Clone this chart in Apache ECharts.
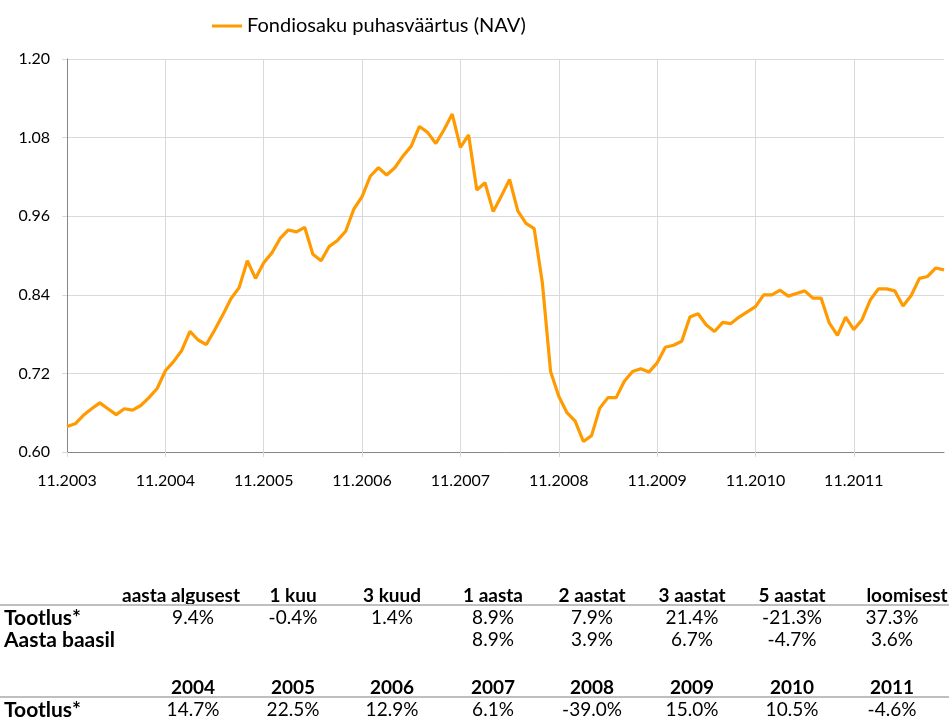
<!DOCTYPE html>
<html>
<head>
<meta charset="utf-8">
<script src="https://cdn.jsdelivr.net/npm/echarts@6/dist/echarts.min.js"></script>
<style>
html,body{margin:0;padding:0;background:#fff;}
#chart{width:949px;height:721px;}
</style>
</head>
<body>
<div id="chart"></div>
<script>
// ---- data ----
const startMonth = 11, startYear = 2003;
const navValues = [
  0.639,0.643,0.656,0.666,0.675,0.666,0.657,0.666,0.664,0.671,0.683,0.697,
  0.724,0.738,0.755,0.784,0.771,0.764,0.786,0.809,0.834,0.851,0.892,0.865,
  0.889,0.904,0.926,0.939,0.936,0.943,0.902,0.892,0.914,0.923,0.937,0.971,
  0.990,1.021,1.034,1.023,1.034,1.052,1.067,1.097,1.088,1.071,1.092,1.116,
  1.065,1.084,1.000,1.011,0.967,0.991,1.016,0.968,0.949,0.941,0.858,0.723,
  0.685,0.660,0.647,0.616,0.625,0.667,0.683,0.683,0.708,0.723,0.727,0.722,
  0.736,0.760,0.763,0.769,0.806,0.811,0.794,0.784,0.798,0.796,0.806,0.814,
  0.822,0.840,0.840,0.847,0.838,0.842,0.846,0.835,0.835,0.797,0.778,0.806,
  0.787,0.802,0.832,0.849,0.849,0.846,0.823,0.839,0.865,0.868,0.881,0.878
];
const seriesName = 'Fondiosaku puhasväärtus (NAV)';
const periodHeaders = ['aasta algusest','1 kuu','3 kuud','1 aasta','2 aastat','3 aastat','5 aastat','loomisest'];
const periodReturn = ['9.4%','-0.4%','1.4%','8.9%','7.9%','21.4%','-21.3%','37.3%'];
const annualized = ['','','','8.9%','3.9%','6.7%','-4.7%','3.6%'];
const yearHeaders = ['2004','2005','2006','2007','2008','2009','2010','2011'];
const yearReturn = ['14.7%','22.5%','12.9%','6.1%','-39.0%','15.0%','10.5%','-4.6%'];
const rowLabels = ['Tootlus*','Aasta baasil','Tootlus*'];

// month categories
const categories = navValues.map((v,i)=>{
  const m0 = startMonth - 1 + i;
  const m = (m0 % 12) + 1;
  const y = startYear + Math.floor(m0 / 12);
  return m + '.' + y;
});
const yearStep = 12;
const everyYear = (idx) => idx % yearStep === 0;

// ---- layout ----
const FONT = 'Lato';
const TFS = 19;
const colX = [193, 293, 392, 493, 592, 692, 792, 892];
const headerX = [181, 293, 392, 493, 592, 692, 792, 907];
const graphics = [];
function txt(x, y, s, bold, align, size){
  graphics.push({type:'text', x:x, y:y, silent:true,
    style:{text:s, x:0, y:0, fill:'#000', font:(bold?'bold ':'')+(size||TFS)+'px '+FONT,
      textAlign:align||'center', textVerticalAlign:'middle'}});
}
periodHeaders.forEach((s,i)=>txt(headerX[i], 596, s, true));
periodReturn.forEach((s,i)=>txt(colX[i], 618, s, false));
annualized.forEach((s,i)=>{ if(s) txt(colX[i], 640, s, false); });
yearHeaders.forEach((s,i)=>txt(colX[i], 688, s, true));
yearReturn.forEach((s,i)=>txt(colX[i], 710, s, false));
txt(4, 618, rowLabels[0], true, 'left', 21);
txt(4, 640, rowLabels[1], true, 'left', 21);
txt(4, 710, rowLabels[2], true, 'left', 21);
graphics.push({type:'line', silent:true, shape:{x1:0,y1:605,x2:949,y2:605}, style:{stroke:'#bfbfbf', lineWidth:2}});
graphics.push({type:'line', silent:true, shape:{x1:0,y1:697,x2:949,y2:697}, style:{stroke:'#bfbfbf', lineWidth:2}});

const chart = echarts.init(document.getElementById('chart'), null, {renderer:'canvas'});
chart.setOption({
  animation:false,
  backgroundColor:'#fff',
  textStyle:{fontFamily:FONT},
  legend:{
    left:207, top:11, itemWidth:30, itemHeight:3, itemGap:10,
    icon:'rect',
    textStyle:{fontSize:20, color:'#000', fontFamily:FONT},
    data:[seriesName]
  },
  grid:{left:67, right:5, top:59, bottom:269, containLabel:false},
  xAxis:{
    type:'category', data:categories, boundaryGap:false,
    axisLine:{show:true, lineStyle:{color:'#868686', width:1}},
    axisTick:{show:true, interval:everyYear, length:5, lineStyle:{color:'#d9d9d9'}},
    axisLabel:{interval:everyYear, margin:21, fontSize:16, color:'#000', fontFamily:FONT},
    splitLine:{show:true, interval:everyYear, lineStyle:{color:'#d9d9d9', width:1}}
  },
  yAxis:{
    type:'value', min:0.6, max:1.2, interval:0.12,
    axisLine:{show:true, lineStyle:{color:'#868686', width:1}},
    axisTick:{show:true, length:5, lineStyle:{color:'#d9d9d9'}},
    axisLabel:{margin:17, fontSize:16, color:'#000', fontFamily:FONT,
      formatter:v=>v.toFixed(2)},
    splitLine:{show:true, lineStyle:{color:'#d9d9d9', width:1}}
  },
  series:[{
    name:seriesName, type:'line', data:navValues, showSymbol:false, symbol:'none',
    lineStyle:{color:'#ff9a00', width:3.2}, itemStyle:{color:'#ff9a00'}
  }],
  graphic:graphics
});
</script>
</body>
</html>
